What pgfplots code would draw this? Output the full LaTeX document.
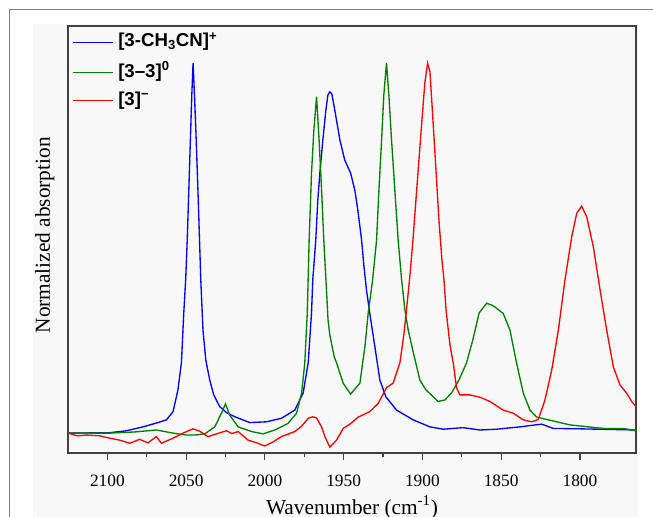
\documentclass[border=0pt]{standalone}
\usepackage{fontspec}
\setmainfont{Liberation Serif}
\newfontfamily\legfont{Liberation Sans}
\usepackage{pgfplots}
\pgfplotsset{compat=1.18}
\definecolor{bgc}{RGB}{248,248,248}
\definecolor{lineA}{RGB}{0,0,255}
\definecolor{lineB}{RGB}{0,128,0}
\definecolor{lineC}{RGB}{255,0,0}
\newcommand{\lblA}{[3-CH\textsubscript{3}CN]\textsuperscript{+}}
\newcommand{\lblB}{[3\char"2013 3]\textsuperscript{0}}
\newcommand{\lblC}{[3]\textsuperscript{\char"2212}}

\begin{document}
\begin{tikzpicture}
\useasboundingbox (0,0) rectangle (489.75pt,387.75pt);
\fill[bgc] (24.75pt,0) rectangle (478.5pt,369.75pt);
\draw[gray,line width=0.75pt] (6.75pt,0) -- (6.75pt,380.25pt) -- (489.75pt,380.25pt);
\begin{axis}[
  at={(51pt,48pt)}, anchor=south west,
  scale only axis, width=426pt, height=320.25pt,
  x dir=reverse, xmin=1764.4, xmax=2125, ymin=0, ymax=1.095,
  xtick={1800,1850,...,2100}, minor x tick num=1, ytick=\empty,
  xtick pos=left, tick align=outside,
  major tick length=5.25pt, minor tick length=3pt,
  axis line style={black!75, line width=1.1pt},
  tick style={black!75, line width=0.9pt},
  axis background/.style={fill=bgc},
  xticklabel style={font=\fontsize{13}{15}\selectfont, anchor=base, yshift=-19.5pt},
  xlabel={Wavenumber (cm\textsuperscript{-1})},
  xlabel style={font=\fontsize{16}{19}\selectfont, at={(axis description cs:0.5,-0.1429)}, anchor=base},
  ylabel={Normalized absorption},
  ylabel style={font=\fontsize{16}{19}\selectfont, at={(axis description cs:-0.0317,0.51)}, anchor=base},
  /pgf/number format/1000 sep={},
  /pgf/number format/assume math mode=true,
]
% [3-CH3CN]+
\addplot[color=lineA, line width=1pt] coordinates {
(2125.0,0.051)(2098.5,0.052)(2087.9,0.057)(2077.4,0.067)(2067.9,0.078)(2062.5,0.085)
(2058.3,0.106)(2055.2,0.162)(2053.0,0.231)(2051.5,0.359)(2050.3,0.444)(2049.3,0.546)
(2048.3,0.674)(2047.3,0.803)(2046.4,0.918)(2045.6,1.000)(2044.7,0.918)(2043.6,0.803)
(2042.3,0.649)(2040.7,0.444)(2039.3,0.315)(2037.5,0.238)(2035.0,0.187)(2032.5,0.149)
(2028.7,0.119)(2024.2,0.103)(2019.1,0.093)(2009.6,0.078)(1999.0,0.080)(1989.5,0.089)
(1981.0,0.110)(1975.7,0.154)(1972.5,0.231)(1970.4,0.359)(1969.6,0.444)(1967.7,0.546)
(1966.4,0.649)(1965.1,0.718)(1963.2,0.803)(1961.3,0.879)(1960.0,0.918)(1958.8,0.926)
(1957.5,0.921)(1955.6,0.879)(1952.4,0.803)(1949.3,0.751)(1945.6,0.718)(1942.9,0.674)
(1941.0,0.623)(1938.6,0.546)(1937.2,0.482)(1935.5,0.418)(1933.4,0.358)(1930.2,0.273)
(1927.0,0.187)(1923.2,0.144)(1916.4,0.110)(1905.9,0.085)(1895.2,0.067)(1886.8,0.061)
(1874.1,0.065)(1863.5,0.059)(1852.9,0.061)(1838.1,0.067)(1824.3,0.074)(1816.9,0.063)
(1799.9,0.062)(1764.4,0.059)};
% [3-3]0
\addplot[color=lineB, line width=1pt] coordinates {
(2125.0,0.051)(2098.5,0.051)(2082.7,0.054)(2068.9,0.059)(2058.3,0.051)(2049.8,0.046)
(2044.5,0.046)(2038.2,0.049)(2031.8,0.067)(2027.6,0.102)(2025.0,0.126)(2022.3,0.097)
(2017.0,0.067)(2008.5,0.055)(2001.1,0.049)(1993.7,0.059)(1985.3,0.076)(1979.9,0.102)
(1976.7,0.153)(1974.7,0.230)(1973.1,0.358)(1971.9,0.546)(1970.4,0.718)(1968.9,0.828)
(1967.2,0.914)(1965.6,0.803)(1964.0,0.674)(1962.6,0.546)(1960.9,0.418)(1959.9,0.341)
(1958.8,0.303)(1956.0,0.247)(1954.5,0.231)(1950.3,0.179)(1945.6,0.151)(1939.7,0.179)
(1936.5,0.273)(1934.4,0.359)(1931.6,0.444)(1929.1,0.546)(1927.6,0.674)(1925.9,0.803)
(1924.5,0.918)(1922.8,1.000)(1921.3,0.918)(1919.6,0.803)(1917.5,0.674)(1915.4,0.546)
(1913.2,0.444)(1911.1,0.367)(1909.0,0.315)(1905.4,0.251)(1901.6,0.187)(1897.8,0.162)
(1893.1,0.144)(1890.0,0.132)(1885.7,0.136)(1881.5,0.154)(1876.8,0.187)(1872.0,0.231)
(1868.0,0.290)(1864.0,0.359)(1859.2,0.384)(1855.2,0.378)(1848.7,0.358)(1844.4,0.315)
(1840.2,0.230)(1835.9,0.153)(1831.7,0.110)(1827.5,0.092)(1821.1,0.086)(1806.3,0.072)
(1785.1,0.063)(1772.4,0.063)(1764.4,0.057)};
% [3]-
\addplot[color=lineC, line width=1pt] coordinates {
(2125.0,0.051)(2118.9,0.044)(2113.3,0.046)(2104.9,0.044)(2098.5,0.038)(2092.2,0.033)
(2085.8,0.025)(2079.5,0.035)(2074.2,0.026)(2068.9,0.042)(2065.7,0.025)(2058.3,0.038)
(2051.9,0.051)(2045.6,0.062)(2041.4,0.056)(2036.1,0.042)(2030.7,0.049)(2024.4,0.057)
(2021.0,0.050)(2017.0,0.055)(2010.7,0.033)(2005.2,0.026)(2000.1,0.018)(1995.0,0.028)
(1989.5,0.042)(1981.0,0.055)(1976.6,0.069)(1972.5,0.089)(1969.6,0.093)(1967.2,0.090)
(1964.0,0.067)(1961.9,0.042)(1958.8,0.015)(1954.5,0.033)(1950.3,0.063)(1946.0,0.074)
(1940.8,0.092)(1933.4,0.106)(1928.1,0.127)(1922.7,0.168)(1918.6,0.179)(1914.3,0.231)
(1911.8,0.303)(1909.8,0.379)(1907.9,0.456)(1906.0,0.546)(1904.1,0.649)(1902.2,0.751)
(1900.3,0.854)(1898.4,0.951)(1896.7,1.000)(1895.2,0.977)(1893.3,0.854)(1891.4,0.726)
(1889.5,0.597)(1887.6,0.495)(1886.3,0.444)(1885.0,0.367)(1882.5,0.277)(1880.4,0.230)
(1878.3,0.167)(1876.2,0.149)(1869.8,0.149)(1863.5,0.143)(1857.1,0.132)(1848.7,0.110)
(1842.3,0.102)(1836.0,0.085)(1830.6,0.080)(1826.4,0.086)(1822.2,0.136)(1817.9,0.213)
(1813.7,0.315)(1809.5,0.444)(1805.2,0.555)(1802.0,0.615)(1798.9,0.633)(1795.7,0.606)
(1791.5,0.529)(1787.2,0.418)(1783.0,0.315)(1778.8,0.221)(1774.5,0.174)(1770.3,0.153)
(1767.1,0.132)(1764.4,0.119)};
% legend, drawn by hand in the top left corner
\draw[lineA, line width=1pt] ([xshift=3.5pt,yshift=-12.5pt]axis description cs:0,1) -- ([xshift=33.5pt,yshift=-12.5pt]axis description cs:0,1);
\draw[lineB, line width=1pt] ([xshift=3.5pt,yshift=-35pt]axis description cs:0,1) -- ([xshift=33.5pt,yshift=-35pt]axis description cs:0,1);
\draw[lineC, line width=1pt] ([xshift=3.5pt,yshift=-56pt]axis description cs:0,1) -- ([xshift=33.5pt,yshift=-56pt]axis description cs:0,1);
\node[anchor=base west, inner sep=0pt, font=\legfont\bfseries\fontsize{14}{16}\selectfont]
  at ([xshift=37.5pt,yshift=-15.75pt]axis description cs:0,1) {\lblA};
\node[anchor=base west, inner sep=0pt, font=\legfont\bfseries\fontsize{14}{16}\selectfont]
  at ([xshift=37.5pt,yshift=-38.5pt]axis description cs:0,1) {\lblB};
\node[anchor=base west, inner sep=0pt, font=\legfont\bfseries\fontsize{14}{16}\selectfont]
  at ([xshift=37.5pt,yshift=-59.5pt]axis description cs:0,1) {\lblC};
\end{axis}
\end{tikzpicture}
\end{document}
